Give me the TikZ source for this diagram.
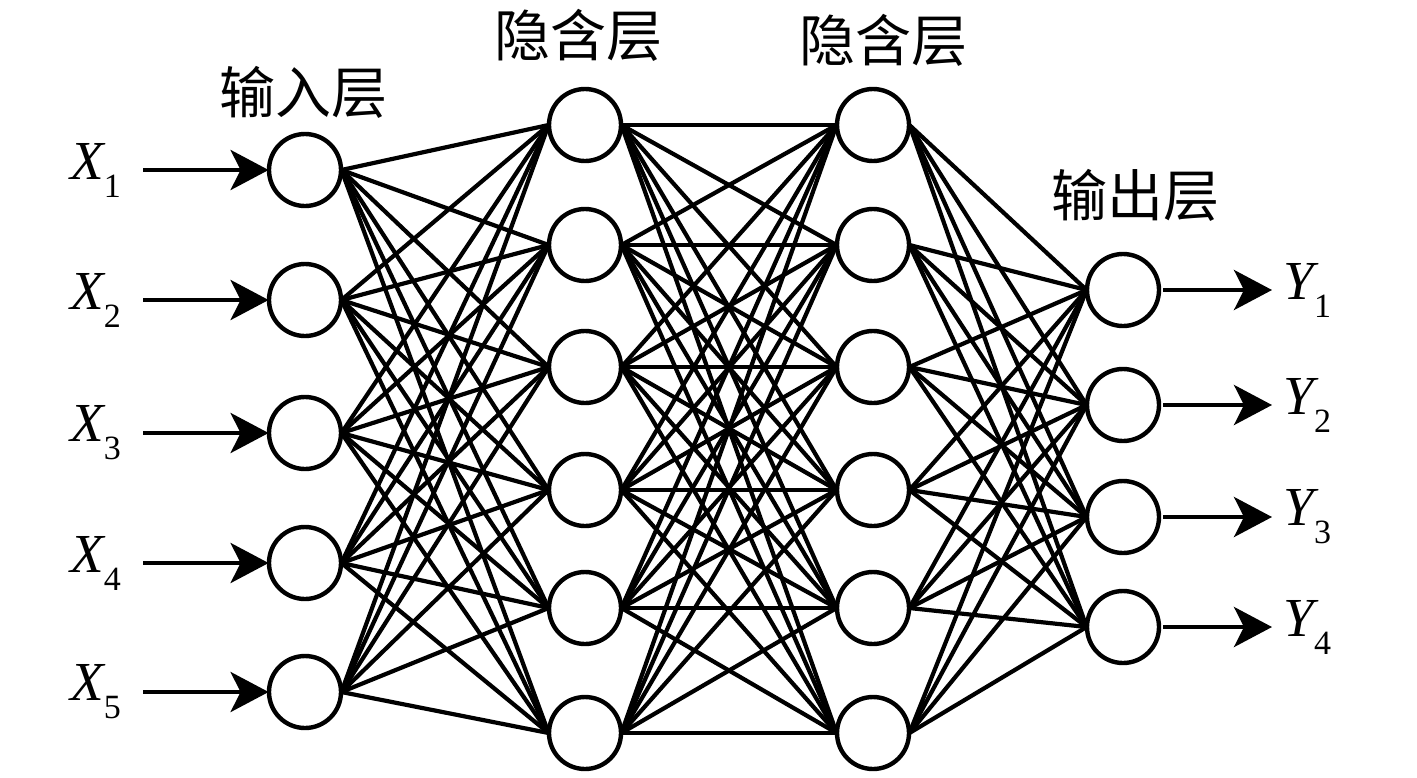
\documentclass[tikz,border=0pt]{standalone}
\usepackage{fontspec}
\setmainfont{Liberation Serif}
\newfontfamily\cjk{Noto Sans CJK SC}
\usetikzlibrary{arrows.meta}
\newcommand{\lab}[2]{{\fontsize{27.5}{30}\selectfont\itshape #1}\raisebox{-9pt}{\fontsize{17}{18}\selectfont #2}}
\begin{document}
\begin{tikzpicture}[x=0.5pt,y=-0.5pt,
  neuron/.style={circle,minimum size=36pt,inner sep=0pt},
  ring/.style={line width=2.2pt,fill=white},
  link/.style={line width=2.1pt},
  inarrow/.style={line width=2.2pt,-{Stealth[length=19pt,width=20pt,inset=5pt]}},
  title/.style={font=\cjk\fontsize{28}{30}\selectfont,inner sep=0pt},
  vlabel/.style={inner sep=0pt,anchor=west}]
\useasboundingbox (0,0) rectangle (1417,777);
% nodes
\foreach \i/\y in {1/170,2/300,3/433,4/563,5/692}{
  \node[neuron] (i\i) at (305,\y) {};
}
\foreach \i/\y in {1/125,2/245,3/367,4/490,5/608,6/733}{
  \node[neuron] (a\i) at (585,\y) {};
  \node[neuron] (b\i) at (873,\y) {};
}
\foreach \i/\y in {1/290,2/405,3/517,4/627}{
  \node[neuron] (o\i) at (1123,\y) {};
}
% connections
\foreach \i in {1,...,5}{\foreach \j in {1,...,6}{\draw[link] (i\i.east) -- (a\j.west);}}
\foreach \i in {1,...,6}{\foreach \j in {1,...,6}{\draw[link] (a\i.east) -- (b\j.west);}}
\foreach \i in {1,...,6}{\foreach \j in {1,...,4}{\draw[link] (b\i.east) -- (o\j.west);}}
% circles on top
\foreach \n in {i1,i2,i3,i4,i5,a1,a2,a3,a4,a5,a6,b1,b2,b3,b4,b5,b6,o1,o2,o3,o4}{
  \draw[ring] (\n.center) circle (18pt);
}
% input arrows and labels
\foreach \i/\y in {1/170,2/300,3/433,4/563,5/692}{
  \coordinate (s\i) at (143,\y);
  \draw[inarrow] (s\i) -- (i\i.west);
  \node[vlabel] (x\i) at (70,\y) {\lab{X}{\i}};
}
% output arrows and labels
\foreach \i/\y in {1/290,2/405,3/517,4/627}{
  \coordinate (e\i) at (1272,\y);
  \coordinate (f\i) at (1163,\y);
  \draw[inarrow] (f\i) -- (e\i);
  \node[vlabel] (y\i) at (1283,\y) {\lab{Y}{\i}};
}
% titles
\node[title] (t1) at (303,92) {输入层};
\node[title] (t2) at (578,35) {隐含层};
\node[title] (t3) at (883,40) {隐含层};
\node[title] (t4) at (1135,195) {输出层};
\end{tikzpicture}
\end{document}
